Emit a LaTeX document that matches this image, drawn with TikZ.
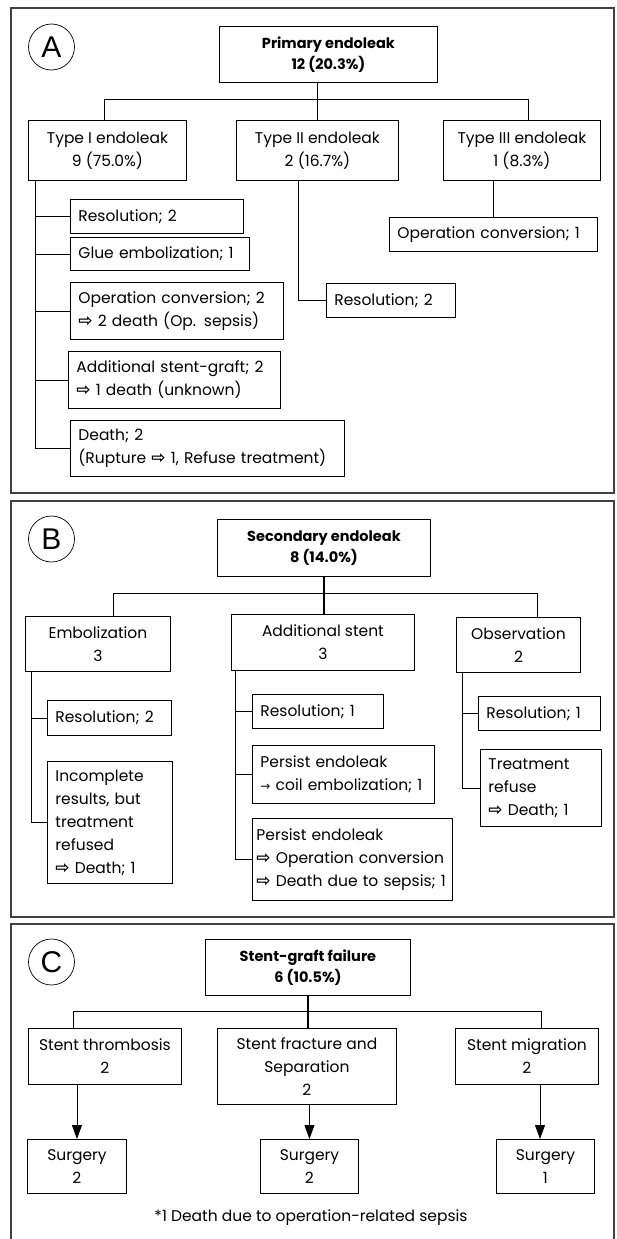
\documentclass[tikz,border=0pt]{standalone}
\usepackage{fontspec}
\setmainfont{Poppins}
\newfontfamily\arrowfont{DejaVu Sans}
\newfontfamily\letterfont{Liberation Sans}
\usetikzlibrary{arrows.meta,positioning,calc}

\newcommand{\wra}{{\arrowfont\bfseries\fontsize{17}{15}\selectfont ⇨}}
\newcommand{\thinra}{{\arrowfont\fontsize{12}{12}\selectfont →}}

\begin{document}
\begin{tikzpicture}[x=1pt, y=-1pt, font=\fontsize{15.5}{23}\selectfont, line width=0.9pt]
    \tikzstyle{mid} = [draw, anchor=north west, align=center, inner sep=0pt]
    \tikzstyle{head} = [mid, font=\fontsize{14.5}{21}\selectfont\bfseries]
    \tikzstyle{leaf} = [draw, anchor=north west, align=left, inner xsep=8pt, inner ysep=0pt]
    \tikzstyle{badge} = [draw, circle, line width=0.7pt, minimum size=46pt, inner sep=0pt, font=\letterfont\fontsize{30}{30}\selectfont]
    \tikzstyle{frame} = [draw=black!75, line width=1.3pt]
    \tikzstyle{tip} = [-{Triangle[width=10pt,length=14pt]}]

    \useasboundingbox (0,0) rectangle (616,1239);

    % panel frames
    \draw[frame] (11,8) rectangle (614,493);
    \draw[frame] (11,501) rectangle (614,917);
    \draw[frame] (11,1241) -- (11,924) -- (614,924) -- (614,1241);

    % ---- A: primary endoleak
    \node[badge] (circA) at (51.5,47) {A};
    \node[head, minimum width=218pt, minimum height=56pt] (Aprim) at (219,26) {Primary endoleak\\12 (20.3\%)};

    \node[mid, minimum width=158pt, minimum height=60pt] (AtypeI) at (28,120) {Type I endoleak\\9 (75.0\%)};
    \node[mid, minimum width=162pt, minimum height=60pt] (AtypeII) at (236,120) {Type II endoleak\\2 (16.7\%)};
    \node[mid, minimum width=157pt, minimum height=60pt] (AtypeIII) at (443,120) {Type III endoleak\\1 (8.3\%)};

    \node[leaf, text width=157pt, minimum height=34pt] (AresI) at (70,199) {Resolution; 2};
    \node[leaf, text width=163pt, minimum height=33pt] (Aglue) at (70,237) {Glue embolization; 1};
    \node[leaf, text width=197pt, minimum height=57pt] (Aopconv) at (70,282) {Operation conversion; 2\\\wra\ 2 death (Op. sepsis)};
    \node[leaf, text width=196pt, minimum height=57pt] (Aaddst) at (68,351) {Additional stent-graft; 2\\\wra\ 1 death (unknown)};
    \node[leaf, text width=258pt, minimum height=56pt] (Adeath) at (70,420) {Death; 2\\(Rupture \wra\ 1, Refuse treatment)};

    \node[leaf, text width=192pt, minimum height=34pt] (AopIII) at (389,217) {Operation conversion; 1};
    \node[leaf, text width=113pt, minimum height=34pt] (AresII) at (326,283) {Resolution; 2};

    \draw[line width=1.2pt] (AtypeII.north |- Aprim.south) -- (AtypeII.north);
    \draw ([xshift=76pt]AtypeI.north west) -- ++(0,-21) -| ([xshift=85pt]AtypeIII.north west);
    \coordinate (Atrunk) at ([xshift=7pt]AtypeI.south west);
    \draw (Atrunk) |- (Adeath.west);
    \foreach \n in {AresI,Aglue,Aopconv,Aaddst}
        \draw (\n.west -| Atrunk) -- (\n.west);
    \draw ([xshift=62pt]AtypeII.south west) |- (AresII.west);
    \draw (AopIII.north |- AtypeIII.south) -- (AopIII.north);

    % ---- B: secondary endoleak
    \node[badge] (circB) at (51.5,539) {B};
    \node[head, minimum width=213pt, minimum height=57pt] (Bsec) at (217,519) {Secondary endoleak\\8 (14.0\%)};

    \node[mid, minimum width=145pt, minimum height=55pt] (Bemb) at (25,616) {Embolization\\3};
    \node[mid, minimum width=183pt, minimum height=56pt] (Badd) at (231,614) {Additional stent\\3};
    \node[mid, minimum width=124pt, minimum height=55pt] (Bobs) at (456,617) {Observation\\2};

    \node[leaf, text width=108pt, minimum height=35pt] (BresE) at (47,700) {Resolution; 2};
    \node[leaf, text width=109pt, minimum height=122pt] (Bincomp) at (47,761) {Incomplete\\results, but\\treatment\\refused\\\wra\ Death; 1};
    \node[leaf, text width=115pt, minimum height=34pt] (BresA) at (252,694) {Resolution; 1};
    \node[leaf, text width=166pt, minimum height=58pt] (Bcoil) at (252,745) {Persist endoleak\\\thinra\ coil embolization; 1};
    \node[leaf, inner xsep=4pt, text width=192pt, minimum height=82pt] (Bpop) at (252,818) {Persist endoleak\\\wra\ Operation conversion\\\wra\ Death due to sepsis; 1};
    \node[leaf, text width=106pt, minimum height=34pt] (BresO) at (478,696) {Resolution; 1};
    \node[leaf, text width=105pt, minimum height=77pt] (Btreat) at (480,749) {Treatment\\refuse\\\wra\ Death; 1};

    \draw[line width=1.2pt] (Bsec.south) -- (Bsec.south |- Badd.north);
    \draw ([xshift=88pt]Bemb.north west) -- ++(0,-23) -| ([xshift=81pt]Bobs.north west);
    \coordinate (Btrunk1) at ([xshift=6pt]Bemb.south west);
    \coordinate (Btrunk2) at ([xshift=4pt]Badd.south west);
    \coordinate (Btrunk3) at ([xshift=6pt]Bobs.south west);
    \draw (Btrunk1) |- (Bincomp.west);
    \draw (BresE.west -| Btrunk1) -- (BresE.west);
    \draw (Btrunk2) |- (Bpop.west);
    \foreach \n in {BresA,Bcoil}
        \draw (\n.west -| Btrunk2) -- (\n.west);
    \draw (Btrunk3) |- (Btreat.west);
    \draw (BresO.west -| Btrunk3) -- (BresO.west);

    % ---- C: stent-graft failure
    \node[badge] (circC) at (51.5,962) {C};
    \node[head, minimum width=205pt, minimum height=56pt] (Cgraft) at (205,939) {Stent-graft failure\\6 (10.5\%)};

    \node[mid, minimum width=153pt, minimum height=56pt] (Cthromb) at (28,1028) {Stent thrombosis\\2};
    \node[mid, minimum width=179pt, minimum height=76pt] (Cfrac) at (217,1028) {Stent fracture and\\Separation\\2};
    \node[mid, minimum width=143pt, minimum height=56pt] (Cmigr) at (455,1028) {Stent migration\\2};

    \node[mid, minimum width=99pt, minimum height=54pt] (Csurg1) at (27,1139) {Surgery\\2};
    \node[mid, minimum width=98pt, minimum height=54pt] (Csurg2) at (260,1139) {Surgery\\2};
    \node[mid, minimum width=98pt, minimum height=54pt] (Csurg3) at (496,1139) {Surgery\\1};

    \node (Cnote) at (311,1218) {*1 Death due to operation-related sepsis};

    \draw[line width=1.2pt] (Cgraft.south) -- (Cgraft.south |- Cfrac.north);
    \draw ([xshift=45pt]Cthromb.north west) -- ++(0,-17) -| ([xshift=86pt]Cmigr.north west);
    \draw[tip] (Csurg1.north |- Cthromb.south) -- (Csurg1.north);
    \draw[tip] (Csurg2.north |- Cfrac.south) -- (Csurg2.north);
    \draw[tip] ([xshift=85pt]Cmigr.south west) -- ([xshift=85pt]Cmigr.south west |- Csurg3.north);
\end{tikzpicture}
\end{document}
